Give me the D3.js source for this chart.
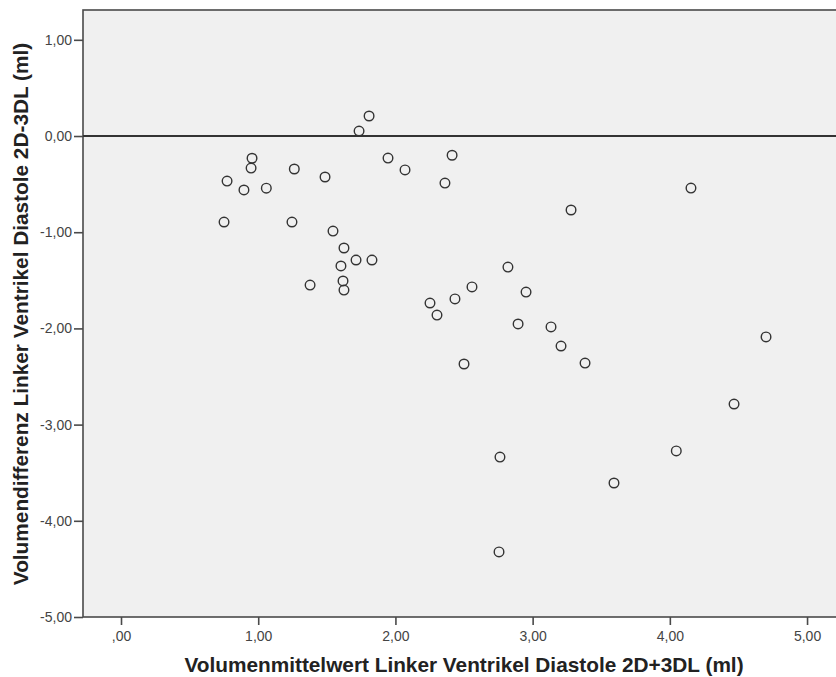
<!DOCTYPE html>
<html>
<head>
<meta charset="utf-8">
<script src="https://cdn.jsdelivr.net/npm/d3@7"></script>
<style>
  html, body { margin: 0; padding: 0; background: #ffffff; }
  svg { display: block; }
</style>
</head>
<body>
<svg id="chart" width="836" height="677"></svg>
<script>
// ---- data ----
const xValues = [0.751, 0.773, 0.896, 0.955, 0.948, 1.059, 1.263, 1.246, 1.487, 1.378,
  1.545, 1.625, 1.603, 1.713, 1.829, 1.618, 1.625, 1.735, 1.808, 1.946,
  2.070, 2.361, 2.413, 2.252, 2.303, 2.434, 2.558, 2.500, 2.820, 2.952,
  2.894, 3.134, 3.207, 3.382, 3.280, 4.154, 4.468, 4.701, 4.047, 3.593,
  2.762, 2.755];
const yValues = [-0.894, -0.468, -0.561, -0.231, -0.333, -0.542, -0.343, -0.894, -0.426, -1.549,
  -0.988, -1.164, -1.351, -1.289, -1.289, -1.507, -1.601, 0.052, 0.208, -0.229,
  -0.353, -0.489, -0.200, -1.736, -1.861, -1.694, -1.569, -2.370, -1.362, -1.622,
  -1.954, -1.985, -2.183, -2.360, -0.769, -0.541, -2.786, -2.089, -3.274, -3.607,
  -3.337, -4.324];
const xTicks = [0, 1, 2, 3, 4, 5];
const yTicks = [1, 0, -1, -2, -3, -4, -5];
const xTitle = "Volumenmittelwert Linker Ventrikel Diastole 2D+3DL (ml)";
const yTitle = "Volumendifferenz Linker Ventrikel Diastole 2D-3DL (ml)";

const base = v => d3.format(".2f")(v).replace(".", ",").replace("\u2212", "-");
const fmtX = v => v === 0 ? ",00" : base(v);
const fmtY = v => base(v);

const svg = d3.select("#chart");
const plotL = 83, plotT = 10, plotR = 836, plotB = 617;

const x = d3.scaleLinear().domain([-0.277, 5.211]).range([plotL, plotR]);
const y = d3.scaleLinear().domain([1.31, -5.0]).range([plotT, plotB]);

// plot background
svg.append("rect")
  .attr("x", plotL).attr("y", plotT)
  .attr("width", plotR - plotL + 5).attr("height", plotB - plotT)
  .attr("fill", "#f0f0f0")
  .attr("stroke", "#4a4a4a").attr("stroke-width", 1.6);

// reference line at 0
svg.append("line")
  .attr("x1", plotL).attr("x2", plotR)
  .attr("y1", y(0)).attr("y2", y(0))
  .attr("stroke", "#333").attr("stroke-width", 1.8);

// axes
const xAxis = d3.axisBottom(x).tickValues(xTicks).tickFormat(fmtX).tickSize(8).tickSizeOuter(0).tickPadding(6);
const yAxis = d3.axisLeft(y).tickValues(yTicks).tickFormat(fmtY).tickSize(9).tickSizeOuter(0).tickPadding(2);

const gx = svg.append("g").attr("transform", `translate(0,${plotB})`).call(xAxis);
const gy = svg.append("g").attr("transform", `translate(${plotL},0)`).call(yAxis);
[gx, gy].forEach(g => {
  g.select(".domain").remove();
  g.selectAll(".tick line").attr("stroke", "#4a4a4a").attr("stroke-width", 1.6);
  g.selectAll(".tick text")
    .attr("fill", "#444")
    .style("font-family", "'Liberation Sans', Arial, sans-serif")
    .style("font-size", "14px");
});

// points
svg.append("g").selectAll("circle")
  .data(xValues.map((v, i) => [v, yValues[i]]))
  .join("circle")
  .attr("cx", d => x(d[0]))
  .attr("cy", d => y(d[1]))
  .attr("r", 4.8)
  .attr("fill", "none")
  .attr("stroke", "#333")
  .attr("stroke-width", 1.4);

// titles
svg.append("text")
  .attr("x", 464).attr("y", 672)
  .attr("text-anchor", "middle")
  .attr("fill", "#222")
  .style("font-family", "'Liberation Sans', Arial, sans-serif")
  .style("font-weight", "bold")
  .style("font-size", "20.8px")
  .text(xTitle);

svg.append("text")
  .attr("transform", "translate(28,314) rotate(-90)")
  .attr("text-anchor", "middle")
  .attr("fill", "#222")
  .style("font-family", "'Liberation Sans', Arial, sans-serif")
  .style("font-weight", "bold")
  .style("font-size", "20.8px")
  .text(yTitle);
</script>
</body>
</html>
